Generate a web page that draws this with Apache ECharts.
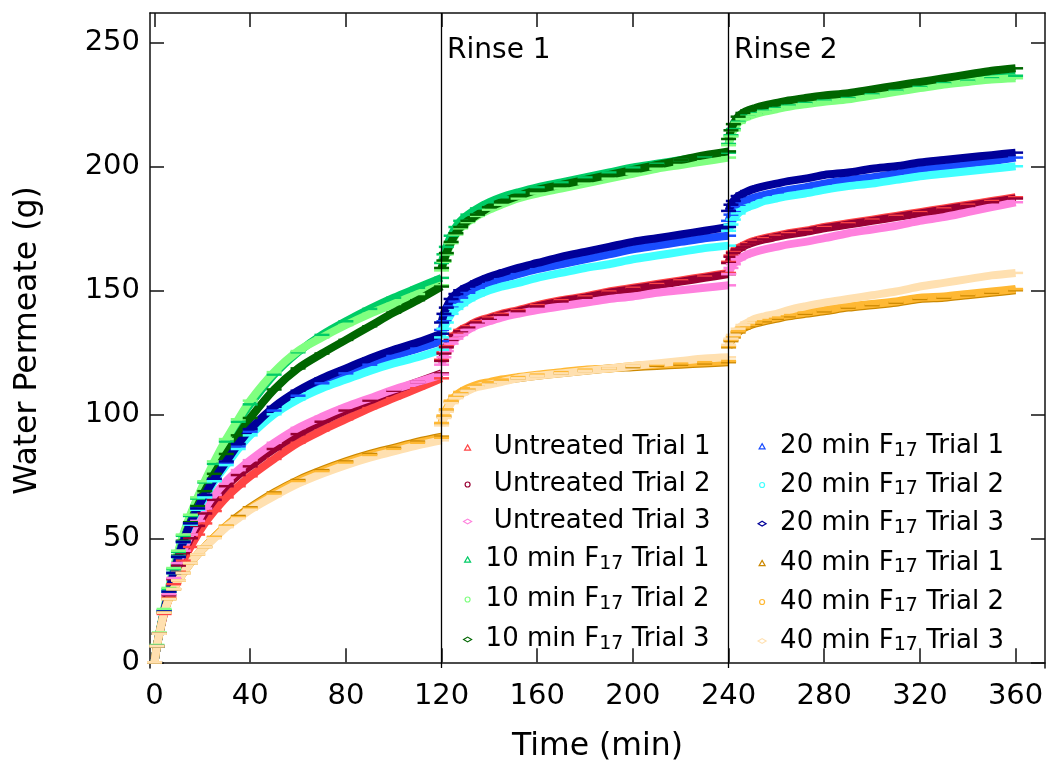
<!DOCTYPE html>
<html>
<head>
<meta charset="utf-8">
<script src="https://cdn.jsdelivr.net/npm/echarts@6/dist/echarts.min.js"></script>
<style>
  html, body { margin: 0; padding: 0; background: #fff; }
  #chart { width: 1047px; height: 763px; }
</style>
</head>
<body>
<div id="chart"></div>
<script>
// Sampling times (min) for the first filtration run and the two runs after rinsing
const firstRunMinutes = [0, 1, 2, 4, 6, 8, 10, 12, 15, 18, 21, 25, 30, 35, 40, 50, 60, 70, 80, 90, 100, 110, 120];
const rinse1Minutes = [120, 121, 122, 124, 126, 128, 131, 135, 140, 145, 152, 160, 170, 180, 190, 200, 210, 220, 230, 240];
const rinse2Minutes = [240, 241, 242, 244, 246, 248, 251, 255, 260, 265, 272, 280, 290, 300, 310, 320, 330, 340, 350, 360];
const runMinutes = [firstRunMinutes, rinse1Minutes, rinse2Minutes];

// Cumulative water permeate (g), one array per run
const untreated1 = [
  [0, 6.5, 11.5, 19.5, 26, 31.5, 36.5, 41, 46.5, 51.5, 56, 61, 66.5, 71, 75, 82, 88.5, 93.5, 98, 102.5, 106.5, 110.5, 114.5],
  [122, 125, 127.5, 130.5, 132.5, 134, 135.5, 137.5, 139, 140.5, 142, 144, 146, 147.5, 149.5, 151, 152.5, 154, 155.5, 157],
  [161.5, 164, 165.5, 167, 168, 169, 170, 171, 172, 173, 174, 175.5, 177, 178.5, 180, 181.5, 183, 184.5, 186, 187.5]
];
const untreated2 = [
  [0, 6.5, 11.5, 20, 27, 33.5, 39, 44, 50, 55, 60, 65.5, 71, 75.5, 79, 86, 92, 97, 101.5, 105.5, 109.5, 113, 116.5],
  [121.5, 124.5, 127, 130, 132, 133.5, 135, 137, 138.5, 140, 141.5, 143.5, 145.5, 147, 149, 150.5, 152, 153.5, 155, 156.5],
  [161, 163.5, 165, 166.5, 167.5, 168.5, 169.5, 170.5, 171.5, 172.5, 173.5, 175, 176.5, 178, 179.5, 181, 182.5, 184, 185.5, 187]
];
const untreated3 = [
  [0, 6.5, 11.5, 20, 27.5, 34, 40, 45, 51.5, 57, 62, 67.5, 73, 77.5, 81.5, 88.5, 94.5, 99, 103, 106.5, 110, 113, 116],
  [120, 123, 125.5, 128.5, 130.5, 132, 134, 136, 137.5, 139, 140.5, 142, 143.5, 145, 146.5, 147.5, 149, 150, 151, 152],
  [156.5, 159, 160.5, 162.5, 163.5, 164.5, 165.5, 166.5, 167.5, 168.5, 169.5, 171, 173, 174.5, 176, 178, 179.5, 181.5, 183.5, 185.5]
];
const tenMin1 = [
  [0, 6.5, 11.5, 21, 29.5, 37.5, 44.5, 51, 59, 66, 72.5, 80, 89, 97, 104, 116, 125, 132, 137.5, 142.5, 147, 151, 155],
  [161, 164.5, 167.5, 172, 175.5, 178, 180.5, 183, 185.5, 187.5, 189.5, 191.5, 193.5, 195.5, 197.5, 199.5, 201, 202.5, 204, 205.5],
  [209, 212.5, 215, 218, 219.5, 220.5, 221.5, 222.5, 223.5, 224.5, 225.5, 226.5, 227.5, 229, 230.5, 232, 233.5, 234.5, 235.5, 236.5]
];
const tenMin2 = [
  [0, 7, 12, 21.5, 30, 38, 45, 51.5, 59.5, 66.5, 73, 81, 90, 98, 105.5, 117, 125.5, 131, 136, 140.5, 144.5, 148.5, 152],
  [158, 161.5, 164.5, 169, 172.5, 175, 177.5, 180, 182.5, 184.5, 187, 189, 191, 193, 195, 197, 199, 200.5, 202, 203.5],
  [208.5, 212, 214.5, 217.5, 219, 220, 221, 222, 223, 224, 225, 226, 227, 228.5, 230, 231.5, 233, 234, 235, 235.5]
];
const tenMin3 = [
  [0, 6.5, 11.5, 20.5, 28.5, 36, 43, 49, 56.5, 63, 69, 76, 84, 91.5, 98.5, 110, 118.5, 124.5, 130, 135.5, 141, 146, 151.5],
  [159, 162, 165, 169.5, 173, 175.5, 178, 180.5, 183.5, 185.5, 188, 190.5, 192.5, 194.5, 196.5, 198.5, 200.5, 202.5, 204.5, 206],
  [211, 214.5, 217, 220, 221.5, 222.5, 223.5, 224.5, 225.5, 226.5, 227.5, 228.5, 229.5, 231, 232.5, 234, 235.5, 237, 238.5, 239.5]
];
const twentyMin1 = [
  [0, 6.5, 11.5, 20.5, 28.5, 36, 42.5, 48.5, 56, 62, 67, 73.5, 80.5, 87, 93, 101.5, 107.5, 112.5, 116.5, 120, 123.5, 126.5, 129.5],
  [134, 137.5, 140, 143.5, 145.5, 147, 149, 151, 153, 154.5, 156.5, 158.5, 160.5, 162.5, 164.5, 166.5, 168, 169.5, 171, 172],
  [178, 180.5, 182, 184, 185.5, 186.5, 187.5, 188.5, 189.5, 190.5, 191.5, 193, 194.5, 195.5, 197, 198.5, 199.5, 201, 202, 203.5]
];
const twentyMin2 = [
  [0, 6.5, 11.5, 20.5, 28.5, 36, 42.5, 48.5, 55.5, 61.5, 66.5, 73, 79.5, 86, 91.5, 100, 106, 110.5, 114, 117.5, 120.5, 123, 126],
  [131, 134.5, 137, 140.5, 142.5, 144, 146, 148, 150, 151.5, 153, 155, 157, 159, 160.5, 162.5, 164, 165.5, 167, 168],
  [174, 176.5, 178.5, 181, 182.5, 183.5, 184.5, 186, 187, 188, 189, 190.5, 192, 193, 194.5, 196, 197, 198, 199, 200]
];
const twentyMin3 = [
  [0, 6.5, 11.5, 20.5, 28.5, 36, 42.5, 48.5, 56, 62, 67.5, 74, 81, 88, 94, 103, 109.5, 114.5, 118.5, 122.5, 126, 129, 132.5],
  [137, 140.5, 143, 146.5, 148.5, 150, 151.5, 153.5, 155.5, 157, 159, 161, 163.5, 165.5, 167.5, 169.5, 171, 172.5, 174, 175.5],
  [182, 184.5, 186, 188, 189, 190, 191, 192, 193, 194, 195, 196.5, 197.5, 199, 200, 201.5, 202.5, 203.5, 204.5, 205.5]
];
const fortyMin1 = [
  [0, 6.5, 11.5, 20, 25.5, 29.5, 33, 36, 40, 43.5, 46.5, 50.5, 55, 59, 62.5, 68.5, 73.5, 77.5, 81, 84, 86.5, 89, 91],
  [96, 99, 101.5, 105, 107, 108.5, 110, 111.5, 112.5, 113.5, 114.5, 115.5, 116.5, 117.5, 118.5, 119, 119.5, 120, 120.5, 121],
  [127, 129.5, 131, 133, 134.5, 135.5, 136.5, 137.5, 138.5, 139.5, 140.5, 141.5, 143, 144, 145, 146.5, 147, 148, 149, 150]
];
const fortyMin2 = [
  [0, 6.5, 11.5, 20, 25.5, 29.5, 33, 36, 40, 43.5, 46.5, 50.5, 55, 58.5, 62, 68, 73, 77, 80.5, 83.5, 86, 88.5, 90.5],
  [96.5, 99.5, 102, 105.5, 107.5, 109, 110.5, 112, 113, 114, 115, 116, 117, 118, 118.5, 119.5, 120, 120.5, 121, 121.5],
  [127.5, 130, 131.5, 133.5, 135, 136, 137, 138, 139, 140, 141, 142, 143.5, 144.5, 145.5, 147, 147.5, 148.5, 149.5, 150.5]
];
const fortyMin3 = [
  [0, 6.5, 11.5, 20, 25.5, 29.5, 33, 36, 40, 43.5, 46.5, 50, 54.5, 58, 61.5, 67, 72, 76, 79.5, 82.5, 85, 87.5, 89.5],
  [95.5, 98.5, 101, 104.5, 106.5, 108, 109.5, 111, 112, 113, 114.5, 115.5, 116.5, 117.5, 118.5, 119.5, 120.5, 121.5, 122.5, 123],
  [128, 130.5, 132, 134.5, 136, 137, 138.5, 139.5, 140.5, 142, 143.5, 145, 146.5, 148, 149.5, 151.5, 153, 154.5, 156, 157]
];

// Axis ticks and the rinse boundaries
const timeTicks = [0, 40, 80, 120, 160, 200, 240, 280, 320, 360];
const permeateTicks = [0, 50, 100, 150, 200, 250];
const rinseMarks = [{ t: 120, label: 'Rinse 1' }, { t: 240, label: 'Rinse 2' }];
const rinseLabelLevel = 246.5;

const FONT = 'DejaVu Sans';

// Small hollow legend markers (extra M points pin the icon box height)
const markerPaths = {
  triangle: 'path://M0,-1M0,1M0,-0.66L0.75,0.66L-0.75,0.66Z',
  circle: 'path://M0,-1M0,1M0.62,0A0.62,0.62,0,1,1,-0.62,0A0.62,0.62,0,1,1,0.62,0Z',
  diamond: 'path://M0,-1M0,1M-1,0L0,-0.6L1,0L0,0.6Z'
};

const trials = [
  { name: 'Untreated Trial 1', color: '#FF4545', marker: 'triangle', runs: untreated1 },
  { name: 'Untreated Trial 2', color: '#990033', marker: 'circle', runs: untreated2 },
  { name: 'Untreated Trial 3', color: '#FF80DD', marker: 'diamond', runs: untreated3 },
  { name: '10 min F17 Trial 1', color: '#00CC66', marker: 'triangle', runs: tenMin1 },
  { name: '10 min F17 Trial 2', color: '#80FF80', marker: 'circle', runs: tenMin2 },
  { name: '10 min F17 Trial 3', color: '#006600', marker: 'diamond', runs: tenMin3 },
  { name: '20 min F17 Trial 1', color: '#1A4DFF', marker: 'triangle', runs: twentyMin1 },
  { name: '20 min F17 Trial 2', color: '#40FFFF', marker: 'circle', runs: twentyMin2 },
  { name: '20 min F17 Trial 3', color: '#000099', marker: 'diamond', runs: twentyMin3 },
  { name: '40 min F17 Trial 1', color: '#CC8800', marker: 'triangle', runs: fortyMin1 },
  { name: '40 min F17 Trial 2', color: '#FFB833', marker: 'circle', runs: fortyMin2 },
  { name: '40 min F17 Trial 3', color: '#FFE0B0', marker: 'diamond', runs: fortyMin3 }
];

// Each reading is drawn as a short horizontal dash on top of a thick band
const series = [];
trials.forEach(function (tr) {
  tr.runs.forEach(function (vals, r) {
    series.push({
      type: 'line',
      name: tr.name,
      xAxisIndex: 0,
      yAxisIndex: 0,
      data: runMinutes[r].map(function (t, i) { return [t, vals[i]]; }),
      smooth: 0.3,
      symbol: 'rect',
      symbolSize: [15, 2.5],
      showSymbol: true,
      showAllSymbol: true,
      silent: true,
      itemStyle: { color: tr.color },
      lineStyle: { color: tr.color, width: 8 }
    });
  });
});

// Vertical boundaries where each rinse starts
series.push({
  type: 'line',
  name: 'rinse',
  xAxisIndex: 0,
  yAxisIndex: 0,
  data: [],
  z: 5,
  markLine: {
    silent: true,
    symbol: 'none',
    animation: false,
    label: { show: false },
    lineStyle: { color: '#000', width: 1.3, type: 'solid' },
    data: rinseMarks.map(function (m) { return { xAxis: m.t }; })
  }
});

function legendBlock(names, left, top, gap) {
  return {
    orient: 'vertical',
    left: left,
    top: top,
    padding: 0,
    itemGap: gap,
    itemWidth: 26,
    itemHeight: 8,
    selectedMode: false,
    data: names.map(function (n) {
      const tr = trials.find(function (x) { return x.name === n; });
      return {
        name: n,
        icon: markerPaths[tr.marker],
        itemStyle: { color: '#ffffff', borderColor: tr.color, borderWidth: 1.2 }
      };
    }),
    formatter: function (name) {
      return name.indexOf('Untreated') === 0 ? ' ' + name : name.replace('F17', 'F{sub|17}');
    },
    textStyle: {
      fontFamily: FONT,
      fontSize: 26,
      color: '#000',
      lineHeight: 28,
      rich: {
        sub: { fontFamily: FONT, fontSize: 19, lineHeight: 12, verticalAlign: 'bottom', color: '#000' }
      }
    }
  };
}

const axisLineStyle = { color: '#111', width: 1.5 };

const option = {
  animation: false,
  backgroundColor: '#fff',
  textStyle: { fontFamily: FONT },
  grid: { left: 150, right: 2, top: 13, bottom: 95, containLabel: false, outerBoundsMode: 'none' },
  xAxis: [
    {
      type: 'value', min: -1.9, max: 372.3, position: 'bottom',
      name: 'Time (min)', nameLocation: 'middle', nameGap: 63,
      nameTextStyle: { fontFamily: FONT, fontSize: 31.5, color: '#000' },
      axisLine: { show: true, lineStyle: axisLineStyle },
      axisTick: { show: true, inside: true, length: 14, customValues: timeTicks, lineStyle: axisLineStyle },
      axisLabel: { show: true, customValues: timeTicks, margin: 14, fontFamily: FONT, fontSize: 29, color: '#000' },
      splitLine: { show: false }
    },
    {
      type: 'value', min: -1.9, max: 372.3, position: 'top',
      axisLine: { show: true, onZero: false, lineStyle: axisLineStyle },
      axisTick: { show: true, inside: true, length: 14, customValues: timeTicks, lineStyle: axisLineStyle },
      axisLabel: { show: false },
      splitLine: { show: false }
    }
  ],
  yAxis: [
    {
      type: 'value', min: -2.3, max: 261.8, position: 'left',
      name: 'Water Permeate (g)', nameLocation: 'middle', nameGap: 106,
      nameTextStyle: { fontFamily: FONT, fontSize: 31.5, color: '#000' },
      axisLine: { show: true, onZero: false, lineStyle: axisLineStyle },
      axisTick: { show: true, inside: true, length: 14, customValues: permeateTicks, lineStyle: axisLineStyle },
      axisLabel: { show: true, customValues: permeateTicks, margin: 10, fontFamily: FONT, fontSize: 29, color: '#000' },
      splitLine: { show: false }
    },
    {
      type: 'value', min: -2.3, max: 261.8, position: 'right',
      axisLine: { show: true, onZero: false, lineStyle: axisLineStyle },
      axisTick: { show: true, inside: true, length: 14, customValues: permeateTicks, lineStyle: axisLineStyle },
      axisLabel: { show: false },
      splitLine: { show: false }
    }
  ],
  legend: [
    legendBlock(['Untreated Trial 1', 'Untreated Trial 2', 'Untreated Trial 3'], 463, 433.5, 9),
    legendBlock(['10 min F17 Trial 1', '10 min F17 Trial 2', '10 min F17 Trial 3'], 463, 545.5, 12),
    legendBlock(['20 min F17 Trial 1', '20 min F17 Trial 2', '20 min F17 Trial 3'], 757.5, 432.3, 10.7),
    legendBlock(['40 min F17 Trial 1', '40 min F17 Trial 2', '40 min F17 Trial 3'], 757.5, 549, 11)
  ],
  series: series
};

const chart = echarts.init(document.getElementById('chart'), null, { renderer: 'canvas' });
chart.setOption(option);

// "Rinse" captions placed just right of each boundary line
const captions = rinseMarks.map(function (m) {
  const p = chart.convertToPixel({ xAxisIndex: 0, yAxisIndex: 0 }, [m.t, rinseLabelLevel]);
  return {
    type: 'text',
    x: p[0] + 5.5,
    y: p[1],
    silent: true,
    style: { text: m.label, fontFamily: FONT, fontSize: 28, fill: '#000', verticalAlign: 'middle', align: 'left' }
  };
});
chart.setOption({ graphic: captions });
</script>
</body>
</html>
